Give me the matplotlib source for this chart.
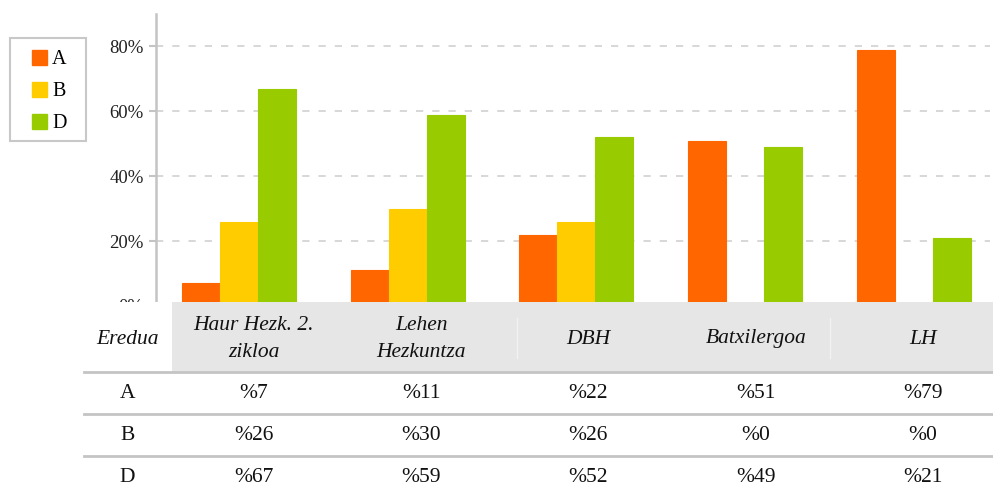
import numpy as np
import matplotlib.pyplot as plt
from matplotlib.patches import Patch, Rectangle

categories = ["Haur Hezk. 2.\nzikloa", "Lehen\nHezkuntza", "DBH", "Batxilergoa", "LH"]
series = ["A", "B", "D"]
val_a = [7, 11, 22, 51, 79]
val_b = [26, 30, 26, 0, 0]
val_d = [67, 59, 52, 49, 21]
colors = ["#ff6600", "#ffcc00", "#99cc00"]
yticks = [0, 20, 40, 60, 80]

plt.rcParams['font.family'] = ['Liberation Serif', 'DejaVu Serif']

W, H = 993, 492
fig = plt.figure(figsize=(W / 100, H / 100), dpi=100)

# main bar axes (pixel layout from reference)
left, right, top, bottom = 156, 990, 14, 306
ax = fig.add_axes([left / W, 1 - bottom / H, (right - left) / W, (bottom - top) / H])
x = np.arange(len(categories))
bw = 0.225
for k, (vals, c) in enumerate(zip([val_a, val_b, val_d], colors)):
    ax.bar(x + (k - 1) * bw, vals, bw, color=c, edgecolor=c, linewidth=0.8, zorder=3)
ax.set_xlim(-0.49, 4.45)
ax.set_ylim(0, 90)
ax.set_yticks(yticks)
ax.set_yticklabels([f"{v}%" for v in yticks], fontsize=13.5, color="#222222")
ax.set_xticks([])
ax.yaxis.grid(True, color="#d4d4d4", linestyle=(0, (4, 5)), linewidth=1.3)
ax.set_axisbelow(True)
for s in ["top", "right", "bottom"]:
    ax.spines[s].set_visible(False)
ax.spines["left"].set_color("#c4c4c4")
ax.spines["left"].set_linewidth(1.8)
ax.tick_params(axis="y", length=5, width=1.5, color="#c4c4c4", pad=4)

# table axes, x matched to bar axes data coords
x0, x1 = ax.get_xlim()
pos = ax.get_position()
scale = (x1 - x0) / pos.width
tb_top = 302
tab = fig.add_axes([0, 0, 1, 1 - tb_top / H], zorder=5)
tab.set_xlim(x0 - pos.x0 * scale, x0 + (1 - pos.x0) * scale)
tab.set_ylim(H - tb_top, 0)
tab.axis("off")
tab.add_patch(Rectangle((0, 0), 1, 1, transform=tab.transAxes, facecolor="white",
                        edgecolor="none", zorder=0))


def px(v):
    return (v - 239) / 168.75


tab.add_patch(Rectangle((px(172), 0), 10, 70, facecolor="#e6e6e6", edgecolor="none", zorder=1))
for xs in [517, 830]:
    tab.plot([px(xs), px(xs)], [16, 56], color="#f2f2f2", lw=1, zorder=2)
for yl in [70, 112, 154]:
    tab.plot([px(84), 10], [yl, yl], color="#c4c4c4", lw=2, zorder=2)

tx = np.linspace(px(254), px(923), len(categories))
lx = px(128)
fs = 15.5
tab.text(lx, 37, "Eredua", ha="center", va="center", fontsize=fs, style="italic", color="#111111")
for xi, cat in zip(tx, categories):
    tab.text(xi, 37, cat, ha="center", va="center", fontsize=fs, style="italic",
             color="#111111", linespacing=1.6)
for r, (name, vals) in enumerate(zip(series, [val_a, val_b, val_d])):
    yc = 92 + r * 42
    tab.text(lx, yc, name, ha="center", va="center", fontsize=fs, color="#111111")
    for xi, v in zip(tx, vals):
        tab.text(xi, yc, f"%{v}", ha="center", va="center", fontsize=fs, color="#111111")

# legend: frame drawn by hand, entries placed inside
fig.patches.append(Rectangle((10 / W, 1 - 141 / H), 76 / W, 103 / H, transform=fig.transFigure,
                             facecolor="white", edgecolor="#c8c8c8", linewidth=1.5))
handles = [Patch(facecolor=c, edgecolor=c, label=s) for s, c in zip(series, colors)]
fig.legend(handles=handles, loc="upper left", bbox_to_anchor=(32 / W, 1 - 50 / H),
           fontsize=14.5, frameon=False, handlelength=0.75, handleheight=0.75,
           handletextpad=0.25, labelspacing=0.62, borderpad=0, borderaxespad=0)

fig.savefig("out.png", dpi=100)
